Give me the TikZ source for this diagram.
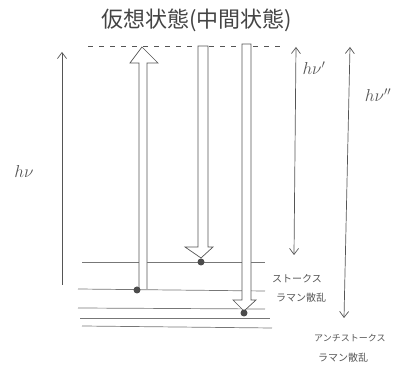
\documentclass[tikz,border=0pt]{standalone}
\usepackage{fontspec}
\newfontfamily\jp{Noto Sans CJK JP}
\usetikzlibrary{arrows.meta}
\definecolor{pencil}{HTML}{555555}
\begin{document}
\begin{tikzpicture}[x=1pt,y=-1pt,
  thin line/.style={draw=pencil,line width=0.6pt},
  photon/.style={draw=pencil,line width=0.7pt,-{Straight Barb[length=6pt,width=9pt]}},
  twoway/.style={draw=pencil,line width=0.7pt,{Straight Barb[length=6pt,width=9pt]}-{Straight Barb[length=6pt,width=9pt]}},
  hollow/.style={draw=pencil,line width=0.7pt,fill=white},
  level/.style={draw=pencil!80,line width=0.7pt},
  dotnode/.style={circle,fill=pencil!90!black,inner sep=0pt,minimum size=7pt},
  lbl/.style={text=pencil,font=\jp\fontsize{10}{12}\selectfont,inner sep=0pt,anchor=west},
  hv/.style={text=pencil,font=\fontsize{17}{19}\selectfont,inner sep=0pt}]
\useasboundingbox (0,0) rectangle (400,379);
% title
\node[text=pencil!80!black,font=\jp\fontsize{22}{24}\selectfont,inner sep=0pt] (title) at (197,20) {仮想状態(中間状態)};
% virtual level dashed
\coordinate (vL) at (88,46);
\coordinate (vR) at (282,46);
\draw[pencil,line width=0.6pt,dash pattern=on 5pt off 6pt] (vL) -- (vR);
% energy levels
\coordinate (l1a) at (82,262); \coordinate (l1b) at (265,262);
\coordinate (l2a) at (78,289); \coordinate (l2b) at (265,291);
\coordinate (l3a) at (78,308); \coordinate (l3b) at (265,309);
\coordinate (l4a) at (80,318); \coordinate (l4b) at (270,318);
\coordinate (l5a) at (82,326); \coordinate (l5b) at (272,328);
\draw[level] (l1a) -- (l1b);
\draw[level] (l2a) -- (l2b);
\draw[level] (l3a) -- (l3b);
\draw[level] (l4a) -- (l4b);
\draw[level] (l5a) -- (l5b);
% left h nu arrow
\coordinate (hvB) at (62,285);
\coordinate (hvT) at (62,52);
\draw[photon] (hvB) -- (hvT);
\node[hv] (hvlab) at (24,172) {$h\nu$};
% hollow up arrow
\draw[hollow] (139,289) -- (139,63) -- (130,63) -- (142,47) -- (158,63) -- (147,63) -- (147,289);
% hollow down arrow middle
\draw[hollow] (198,46) -- (208,46) -- (208,247) -- (213,247) -- (201,258) -- (185,247) -- (198,247) -- cycle;
% hollow down arrow right
\draw[hollow] (242,44) -- (251,44) -- (251,300) -- (256,300) -- (244,311) -- (233,300) -- (242,300) -- cycle;
% dots
\node[dotnode] (d1) at (137,290) {};
\node[dotnode] (d2) at (201,262) {};
\node[dotnode] (d3) at (244,313) {};
% h nu' arrow
\coordinate (p1T) at (296,47);
\coordinate (p1B) at (294,255);
\draw[twoway] (p1B) -- (p1T);
\node[hv] (hv1) at (314,68) {$h\nu'$};
% h nu'' arrow
\coordinate (p2T) at (350,47);
\coordinate (p2B) at (344,318);
\draw[twoway] (p2B) -- (p2T);
\node[hv] (hv2) at (378,95) {$h\nu''$};
% labels
\node[lbl] (s1) at (272,279) {ストークス};
\node[lbl] (s2) at (276,298) {ラマン散乱};
\node[lbl,font=\jp\fontsize{9}{11}\selectfont] (a1) at (314,338) {アンチストークス};
\node[lbl] (a2) at (318,358) {ラマン散乱};
\end{tikzpicture}
\end{document}
